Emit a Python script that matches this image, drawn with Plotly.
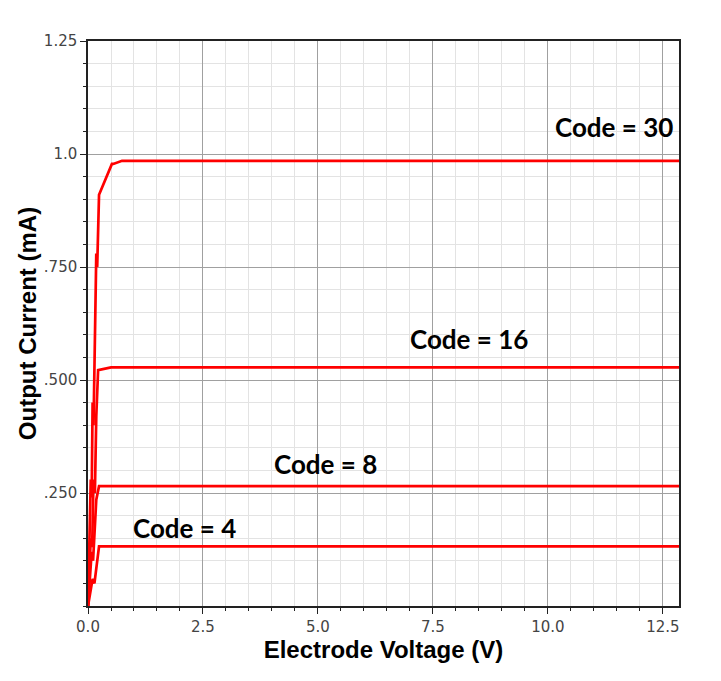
import plotly.graph_objects as go

# Output current vs electrode voltage, one trace per DAC code
codes = ["Code = 4", "Code = 8", "Code = 16", "Code = 30"]

volt_4 = [0, 0.05, 0.1, 0.14, 0.19, 0.24, 12.9]
cur_4 = [0, 0.03, 0.06, 0.05, 0.09, 0.132, 0.132]

volt_8 = [0, 0.04, 0.08, 0.11, 0.15, 0.18, 0.24, 12.9]
cur_8 = [0, 0.06, 0.12, 0.10, 0.19, 0.235, 0.265, 0.265]

volt_16 = [0, 0.03, 0.06, 0.09, 0.12, 0.15, 0.18, 0.22, 0.5, 12.9]
cur_16 = [0, 0.08, 0.15, 0.13, 0.28, 0.25, 0.42, 0.522, 0.528, 0.528]

volt_30 = [0, 0.03, 0.06, 0.08, 0.1, 0.12, 0.15, 0.18, 0.2, 0.24, 0.52, 0.55, 0.74, 12.9]
cur_30 = [0, 0.12, 0.28, 0.24, 0.45, 0.40, 0.62, 0.78, 0.75, 0.91, 0.978, 0.978, 0.985, 0.985]

label_x = [2.09, 5.17, 8.28, 11.43]
label_y = [0.173, 0.314, 0.591, 1.06]

y_tickvals = [0.25, 0.5, 0.75, 1.0, 1.25]
y_ticktext = [".250", ".500", ".750", "1.0", "1.25"]
x_tickvals = [0, 2.5, 5, 7.5, 10, 12.5]
x_ticktext = ["0.0", "2.5", "5.0", "7.5", "10.0", "12.5"]

series = [(volt_4, cur_4), (volt_8, cur_8), (volt_16, cur_16), (volt_30, cur_30)]

fig = go.Figure()
for (vx, cy), name in zip(series, codes):
    fig.add_trace(go.Scatter(
        x=vx, y=cy, mode='lines', name=name,
        line=dict(color='#ff0000', width=2.7),
        showlegend=False
    ))

for name, lx, ly in zip(codes, label_x, label_y):
    fig.add_annotation(
        x=lx, y=ly, text="<b>%s</b>" % name, showarrow=False,
        font=dict(family="Lato", size=26, color='black')
    )

axis_common = dict(
    showline=True, linecolor='#222', linewidth=1.5, mirror=True,
    showgrid=True, gridcolor='#a0a0a0', gridwidth=1,
    zeroline=False,
    ticks='outside', ticklen=6, tickcolor='#222',
    tickfont=dict(family="DejaVu Sans", size=15, color='#444'),
)

# page body adds an 8px offset, so the figure is sized to fit inside it
fig.update_layout(
    width=705, height=665,
    paper_bgcolor='white', plot_bgcolor='white',
    margin=dict(l=80, r=34, t=33, b=67),
    xaxis=dict(
        range=[0, 12.85], tickvals=x_tickvals, ticktext=x_ticktext,
        minor=dict(dtick=0.5, showgrid=True, gridcolor='#e3e3e3',
                   ticks='outside', ticklen=3, tickcolor='#222'),
        title=dict(text="<b>Electrode Voltage (V)</b>", standoff=4,
                   font=dict(family="Liberation Sans", size=24, color='black')),
        **axis_common
    ),
    yaxis=dict(
        range=[0, 1.25], tickvals=y_tickvals, ticktext=y_ticktext,
        minor=dict(dtick=0.05, showgrid=True, gridcolor='#e3e3e3',
                   ticks='outside', ticklen=3, tickcolor='#222'),
        title=dict(text="<b>Output Current (mA)</b>", standoff=0,
                   font=dict(family="Liberation Sans", size=24, color='black')),
        **axis_common
    ),
)

fig.write_html("out.html")
